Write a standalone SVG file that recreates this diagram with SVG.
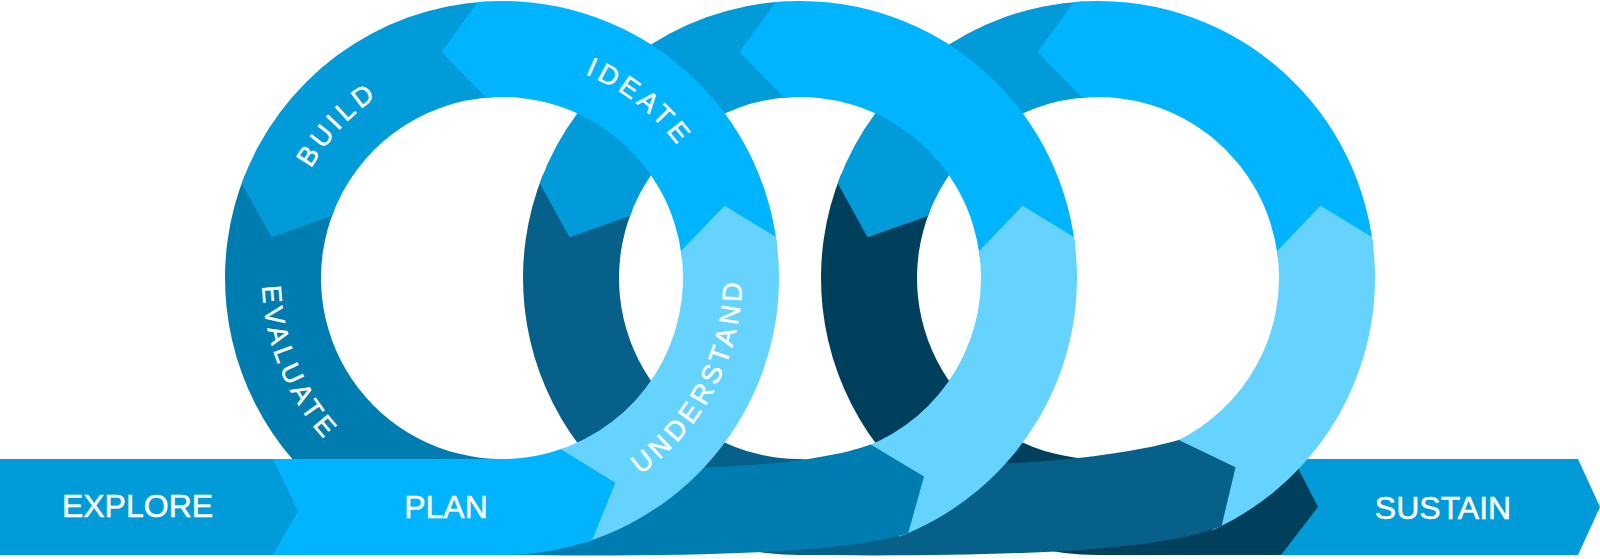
<svg xmlns="http://www.w3.org/2000/svg" width="1600" height="559" viewBox="0 0 1600 559">
<defs>
<style>
.light{fill:#66D3FF}.bright{fill:#00B4FF}.mid{fill:#009BD8}.d1{fill:#007DB0}.d2{fill:#06608A}.d3{fill:#00405C}
.t{font-family:'Liberation Sans',Arial,sans-serif;fill:#fff;stroke:#fff;stroke-width:0.5px}
.tb{font-size:32px;text-anchor:middle}
.tr{font-size:27px;letter-spacing:4.4px}
</style>
<path id="pBuild" d="M291.6,342.3 A220,220 0 0 1 551.5,63.6"/>
<path id="pIdeate" d="M419.6,74.0 A220,220 0 0 1 719.9,308.6"/>
<path id="pEvaluate" d="M311.6,131.9 A240,240 0 0 0 470.7,515.9"/>
<path id="pUnderstand" d="M512.5,517.8 A240,240 0 0 0 704.4,149.0"/>
</defs>
<rect width="1600" height="559" fill="#fff"/>

<g id="sustain">
<path class="mid" d="M1270,459 H1578 L1600,507 L1578,555 H1270 Z"/>
<text class="t tb" x="1443" y="519">SUSTAIN</text>
</g>

<g id="ring3-dark">
<path class="d3" d="M930.18,210.20 L841.17,174.23 A277 277 0 0 0 1098,555 L1281,555 L1318,507 L1298,468 L1250,472 L1140,472 L1098,459 A181 181 0 0 1 930.18,210.20 Z"/>
</g>
<g id="ring3-mid">
<path class="mid" d="M1088.53,97.25 L1083.50,1.38 A277 277 0 0 0 837.71,183.26 L867.55,237.37 L927.92,216.09 A181 181 0 0 1 1088.53,97.25 Z"/>
</g>
<g id="ring3-top">
<path class="bright" d="M1277.84,257.51 L1373.22,246.64 A277 277 0 0 0 1073.86,2.06 L1037.44,51.97 L1082.22,97.69 A181 181 0 0 1 1277.84,257.51 Z"/>
</g>
<g id="ring3-light">
<path class="light" d="M1173.06,442.70 L1212.87,530.06 A277 277 0 0 0 1371.96,237.06 L1320.55,205.69 L1277.01,251.25 A181 181 0 0 1 1173.06,442.70 Z"/>
</g>

<g id="ring2-dark">
<path class="d2" d="M632.18,210.20 L543.17,174.23 A277 277 0 0 0 800,555 C1000,557 1160,552 1221.60,525.90 L1235.54,467.31 L1178.76,439.98 C1080,468 900,470 800,459 A181 181 0 0 1 632.18,210.20 Z"/>
</g>
<g id="ring2-mid">
<path class="mid" d="M790.53,97.25 L785.50,1.38 A277 277 0 0 0 539.71,183.26 L569.55,237.37 L629.92,216.09 A181 181 0 0 1 790.53,97.25 Z"/>
</g>
<g id="ring2-top">
<path class="bright" d="M979.84,257.51 L1075.22,246.64 A277 277 0 0 0 775.86,2.06 L739.44,51.97 L784.22,97.69 A181 181 0 0 1 979.84,257.51 Z"/>
</g>
<g id="ring2-light">
<path class="light" d="M864.86,446.98 L899.27,536.60 A277 277 0 0 0 1073.96,237.06 L1022.55,205.69 L979.01,251.25 A181 181 0 0 1 864.86,446.98 Z"/>
</g>

<g id="evaluate">
<path class="d1" d="M334.18,210.20 L245.17,174.23 A277 277 0 0 0 502,555 C700,557 850,553 908.23,532.98 L924.0,476.44 L870.72,444.61 C790,474 600,472 502,459 A181 181 0 0 1 334.18,210.20 Z"/>
<text class="t tr"><textPath href="#pEvaluate" startOffset="50%" text-anchor="middle">EVALUATE</textPath></text>
</g>
<g id="build">
<path class="mid" d="M492.53,97.25 L487.50,1.38 A277 277 0 0 0 241.71,183.26 L271.55,237.37 L331.92,216.09 A181 181 0 0 1 492.53,97.25 Z"/>
<text class="t tr"><textPath href="#pBuild" startOffset="50%" text-anchor="middle">BUILD</textPath></text>
</g>
<g id="ideate">
<path class="bright" d="M681.84,257.51 L777.22,246.64 A277 277 0 0 0 477.86,2.06 L441.44,51.97 L486.22,97.69 A181 181 0 0 1 681.84,257.51 Z"/>
<text class="t tr"><textPath href="#pIdeate" startOffset="50%" text-anchor="middle">IDEATE</textPath></text>
</g>
<g id="understand">
<path class="light" d="M554.92,451.09 L582.99,542.90 A277 277 0 0 0 775.96,237.06 L724.55,205.69 L681.01,251.25 A181 181 0 0 1 554.92,451.09 Z"/>
<text class="t tr"><textPath href="#pUnderstand" startOffset="50%" text-anchor="middle">UNDERSTAND</textPath></text>
</g>

<g id="plan">
<path class="bright" d="M260,459 H502 A181 181 0 0 0 560.93,449.14 L615.45,482.66 L592.18,539.91 A277 277 0 0 1 502,555 H260 Z"/>
<text class="t tb" x="446" y="518">PLAN</text>
</g>
<g id="explore">
<path class="mid" d="M0,459 H273 L298,511 L273,555 H0 Z"/>
<text class="t tb" x="137.5" y="517">EXPLORE</text>
</g>
</svg>
